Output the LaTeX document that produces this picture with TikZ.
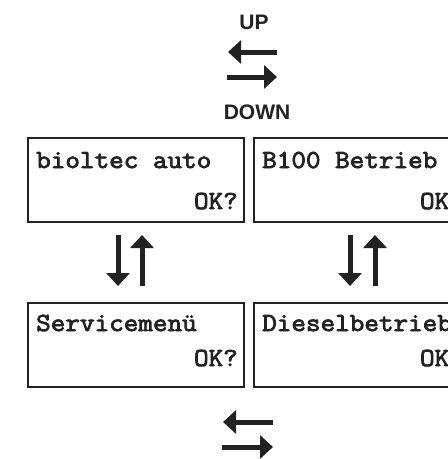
\documentclass[tikz,border=0pt]{standalone}
\usepackage{fontspec}
\usetikzlibrary{arrows.meta}
\setmainfont{Liberation Sans}
\newfontfamily\lcdfont[FakeStretch=1.09,FakeBold=3]{Latin Modern Mono}
\definecolor{ink}{HTML}{222222}
\tikzset{
  display/.style={draw=ink, line width=2pt, rectangle, minimum width=216pt,
    minimum height=84pt, inner sep=0pt, anchor=north west},
  lcdtext/.style={inner sep=0pt, text=ink, font=\lcdfont\fontsize{26pt}{26pt}\selectfont},
  keylabel/.style={inner sep=0pt, text=ink, font=\bfseries\fontsize{21pt}{21pt}\selectfont},
  bigarrow/.style={draw=ink, line width=5pt, -{Triangle[length=13pt,width=23pt]}},
}
\begin{document}
\begin{tikzpicture}[x=1pt,y=-1pt]
  \useasboundingbox (0,0) rectangle (448,459);
  \clip (0,0) rectangle (448,459);

  % up / down key symbols
  \node[keylabel] (up) at (254,22) {UP};
  \node[keylabel] (down) at (257,112) {DOWN};
  \coordinate (upA) at (277,52);   \coordinate (upB) at (228,52);
  \coordinate (dnA) at (227,77);   \coordinate (dnB) at (277,77);
  \draw[bigarrow] (upA) -- (upB);
  \draw[bigarrow] (dnA) -- (dnB);

  % display screens
  \node[display] (auto) at (27,137) {};
  \node[display] (b100) at (253,137) {};
  \node[display] (service) at (27,302) {};
  \node[display] (diesel) at (253,302) {};

  \node[lcdtext, anchor=base west] (autoT) at ([shift={(9,31)}]auto.north west) {bioltec auto};
  \node[lcdtext, anchor=base east] (autoOK) at ([shift={(-7,72)}]auto.north east) {OK?};
  \node[lcdtext, anchor=base west] (b100T) at ([shift={(9,31)}]b100.north west) {B100 Betrieb};
  \node[lcdtext, anchor=base east] (b100OK) at ([shift={(-7,72)}]b100.north east) {OK?};
  \node[lcdtext, anchor=base west] (serviceT) at ([shift={(9,29)}]service.north west) {Servicemenü};
  \node[lcdtext, anchor=base east] (serviceOK) at ([shift={(-7,64)}]service.north east) {OK?};
  \node[lcdtext, anchor=base west] (dieselT) at ([shift={(9,29)}]diesel.north west) {Dieselbetrieb};
  \node[lcdtext, anchor=base east] (dieselOK) at ([shift={(-7,64)}]diesel.north east) {OK?};

  % vertical switching arrows between the rows
  \coordinate (lDa) at (118,235); \coordinate (lDb) at (118,286);
  \coordinate (lUa) at (142,286); \coordinate (lUb) at (142,235);
  \coordinate (rDa) at (350,235); \coordinate (rDb) at (350,286);
  \coordinate (rUa) at (375,286); \coordinate (rUb) at (375,235);
  \draw[bigarrow] (lDa) -- (lDb);
  \draw[bigarrow] (lUa) -- (lUb);
  \draw[bigarrow] (rDa) -- (rDb);
  \draw[bigarrow] (rUa) -- (rUb);

  % horizontal switching arrows at the bottom
  \coordinate (bLa) at (273,422); \coordinate (bLb) at (223,422);
  \coordinate (bRa) at (222,447); \coordinate (bRb) at (273,447);
  \draw[bigarrow] (bLa) -- (bLb);
  \draw[bigarrow] (bRa) -- (bRb);
\end{tikzpicture}
\end{document}
